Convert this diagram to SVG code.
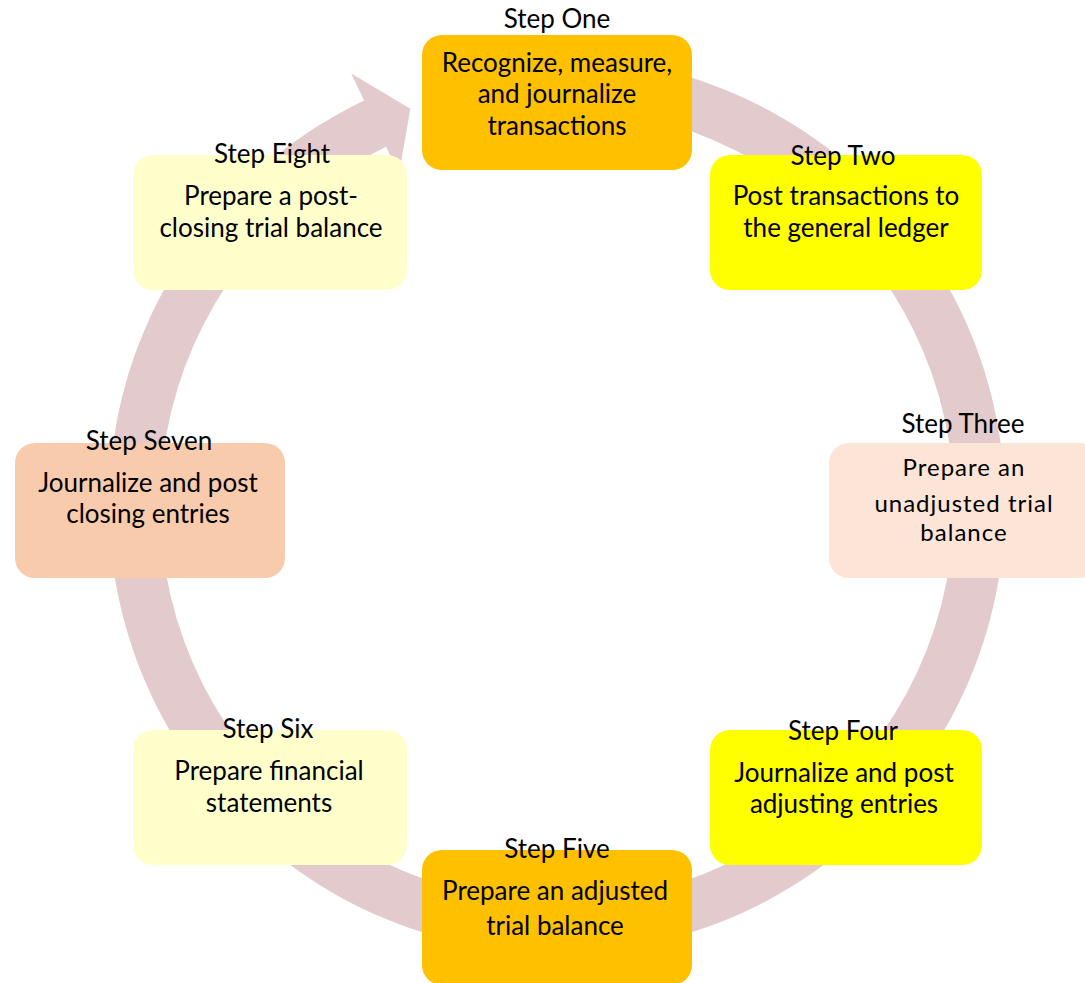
<svg xmlns="http://www.w3.org/2000/svg" width="1085" height="983" viewBox="0 0 1085 983">
<style>
.title{font-family:Lato,"Liberation Sans",sans-serif;font-size:26px;fill:#000;text-anchor:middle}
.body{font-family:Lato,"Liberation Sans",sans-serif;font-size:26px;fill:#000;text-anchor:middle}
.body3{font-family:Lato,"Liberation Sans",sans-serif;font-size:24px;fill:#000;text-anchor:middle;letter-spacing:1px}
.ring{fill:#e3cacd}
</style>
<rect width="1085" height="983" fill="#ffffff"/>
<g id="connectors">
<path class="ring" d="M634.8,63.8 A448,448 0 1 1 364.1,100.6 L351.2,73.6 L410.4,108.7 L399,173.7 L386.1,146.7 A397,397 0 1 0 625.9,114 Z"/>
</g>
<g id="step1">
<rect x="422" y="35" width="270" height="135" rx="20" fill="#ffc000"/>
<text class="title" x="557" y="28">Step One</text>
<text class="body" x="557" y="72">Recognize, measure,</text>
<text class="body" x="557" y="103">and journalize</text>
<text class="body" x="557" y="135">transactions</text>
</g>
<g id="step2">
<rect x="710" y="155" width="272" height="135" rx="20" fill="#ffff00"/>
<text class="title" x="843" y="165">Step Two</text>
<text class="body" x="846" y="205">Post transactions to</text>
<text class="body" x="846" y="237">the general ledger</text>
</g>
<g id="step3">
<rect x="829" y="443" width="270" height="135" rx="20" fill="#fce4d6"/>
<text class="title" x="963" y="433">Step Three</text>
<text class="body3" x="964" y="476">Prepare an</text>
<text class="body3" x="964" y="512">unadjusted trial</text>
<text class="body3" x="964" y="541">balance</text>
</g>
<g id="step4">
<rect x="710" y="730" width="272" height="135" rx="20" fill="#ffff00"/>
<text class="title" x="843" y="740">Step Four</text>
<text class="body" x="844" y="782">Journalize and post</text>
<text class="body" x="844" y="813">adjusting entries</text>
</g>
<g id="step5">
<rect x="422" y="850" width="270" height="135" rx="20" fill="#ffc000"/>
<text class="title" x="557" y="858">Step Five</text>
<text class="body" x="555" y="900">Prepare an adjusted</text>
<text class="body" x="555" y="935">trial balance</text>
</g>
<g id="step6">
<rect x="133" y="730" width="274" height="135" rx="20" fill="#ffffcc"/>
<text class="title" x="268" y="738">Step Six</text>
<text class="body" x="269" y="780">Prepare financial</text>
<text class="body" x="269" y="812">statements</text>
</g>
<g id="step7">
<rect x="15" y="443" width="270" height="135" rx="20" fill="#f8cbad"/>
<text class="title" x="149" y="450">Step Seven</text>
<text class="body" x="148" y="492">Journalize and post</text>
<text class="body" x="148" y="523">closing entries</text>
</g>
<g id="step8">
<rect x="133" y="155" width="274" height="135" rx="20" fill="#ffffcc"/>
<text class="title" x="272" y="163">Step Eight</text>
<text class="body" x="271" y="205">Prepare a post-</text>
<text class="body" x="271" y="237">closing trial balance</text>
</g>
</svg>
